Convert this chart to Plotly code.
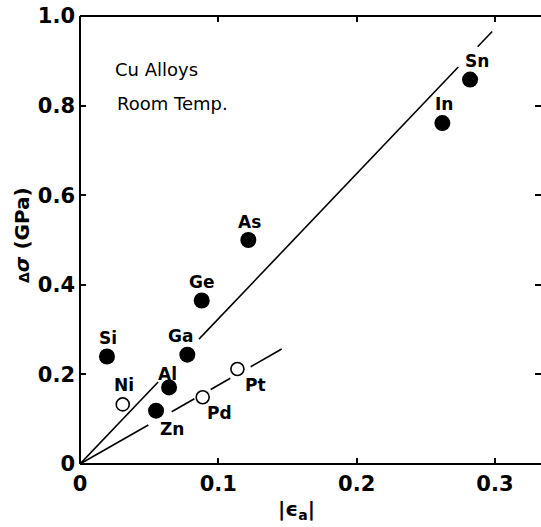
import plotly.graph_objects as go

# Solute data: lattice misfit |eps_a| and strengthening delta-sigma (GPa)
filled_names = ["Si", "Al", "Zn", "Ga", "Ge", "As", "In", "Sn"]
filled_eps = [0.0195, 0.0644, 0.055, 0.0776, 0.088, 0.1217, 0.262, 0.282]
filled_dsig = [0.240, 0.171, 0.119, 0.244, 0.365, 0.500, 0.761, 0.858]

open_names = ["Ni", "Pd", "Pt"]
open_eps = [0.0309, 0.0887, 0.1138]
open_dsig = [0.133, 0.149, 0.212]

# Linear trend lines through the origin (slope) and the drawn x-segments
steep_slope = 3.24
steep_segments = [(0.0, 0.0565), (0.086, 0.2735), (0.2875, 0.298)]
shallow_slope = 1.76
shallow_segments = [(0.0, 0.0494), (0.0663, 0.0827), (0.0945, 0.1087), (0.1234, 0.1458)]

# Label offsets in pixels (dx, dy up)
label_offsets = {
    "Si": (1, 18), "Al": (-2, 13), "Zn": (16, -18), "Ga": (-7, 19),
    "Ge": (0, 18), "As": (1, 18), "In": (2, 19), "Sn": (7, 19),
    "Ni": (1, 19), "Pd": (17, -16), "Pt": (18, -16),
}

FONT = "DejaVu Sans"
W, H = 541, 527
L, T, B, R = 80, 16, 63, 0

fig = go.Figure()


def segments_xy(slope, segs):
    xs, ys = [], []
    for a, b in segs:
        xs += [a, b, None]
        ys += [slope * a, slope * b, None]
    return xs, ys


for slope, segs in [(steep_slope, steep_segments), (shallow_slope, shallow_segments)]:
    xs, ys = segments_xy(slope, segs)
    fig.add_trace(go.Scatter(x=xs, y=ys, mode="lines",
                             line=dict(color="black", width=1.6),
                             hoverinfo="skip", showlegend=False))

fig.add_trace(go.Scatter(x=filled_eps, y=filled_dsig, mode="markers",
                         marker=dict(size=16, color="black", line=dict(width=0)),
                         showlegend=False))
fig.add_trace(go.Scatter(x=open_eps, y=open_dsig, mode="markers",
                         marker=dict(size=13, color="white",
                                     line=dict(width=1.6, color="black")),
                         showlegend=False))

for names, xs, ys in [(filled_names, filled_eps, filled_dsig),
                      (open_names, open_eps, open_dsig)]:
    for n, x, y in zip(names, xs, ys):
        dx, dy = label_offsets[n]
        fig.add_annotation(x=x, y=y, xref="x", yref="y", text=f"<b>{n}</b>",
                           showarrow=False, xshift=dx, yshift=dy,
                           font=dict(family=FONT, size=17, color="black"))

fig.add_annotation(x=0.0235, y=0.881, xref="x", yref="y", text="Cu Alloys",
                   showarrow=False, xanchor="left",
                   font=dict(family=FONT, size=18, color="black"))
fig.add_annotation(x=0.025, y=0.805, xref="x", yref="y", text="Room Temp.",
                   showarrow=False, xanchor="left",
                   font=dict(family=FONT, size=18, color="black"))

# Axis titles (placed in pixel terms, converted to paper coordinates)
fig.add_annotation(x=(22 - L) / (W - L - R), y=1 - (235 - T) / (H - T - B),
                   xref="paper", yref="paper", xanchor="center", yanchor="middle",
                   text="<span style='font-size:14px'><b>Δ</b></span><b><i>σ</i> (GPa)</b>",
                   showarrow=False, textangle=-90,
                   font=dict(family=FONT, size=20, color="black"))
fig.add_annotation(x=(296 - L) / (W - L - R), y=0, xref="paper", yref="paper",
                   xanchor="center", yanchor="middle",
                   text="<b>|ϵ<sub>a</sub>|</b>", showarrow=False, yshift=-46,
                   font=dict(family=FONT, size=20, color="black"))

axis_common = dict(
    showline=False, ticks="inside", ticklen=6, tickwidth=1.5, tickcolor="black",
    mirror="ticks", showgrid=False, zeroline=False,
    tickfont=dict(family=FONT, size=21, color="black"),
)
fig.update_xaxes(range=[0, 0.3333], tickvals=[0, 0.1, 0.2, 0.3],
                 ticktext=["<b>0</b>", "<b>0.1</b>", "<b>0.2</b>", "<b>0.3</b>"],
                 ticklabelstandoff=5, **axis_common)
fig.update_yaxes(range=[0, 1.0], tickvals=[0, 0.2, 0.4, 0.6, 0.8, 1.0],
                 ticktext=["<b>0</b>", "<b>0.2</b>", "<b>0.4</b>", "<b>0.6</b>",
                           "<b>0.8</b>", "<b>1.0</b>"],
                 ticklabelstandoff=4, **axis_common)

# Frame: left, bottom and top borders
for x0, y0, x1, y1 in [(0, 0, 0, 1), (0, 0, 1, 0), (0, 1, 1, 1)]:
    fig.add_shape(type="line", xref="paper", yref="paper", x0=x0, y0=y0, x1=x1, y1=y1,
                  line=dict(color="black", width=2))

fig.update_layout(width=W, height=H, margin=dict(l=L, r=R, t=T, b=B),
                  plot_bgcolor="white", paper_bgcolor="white", showlegend=False)

fig.write_html("out.html")
